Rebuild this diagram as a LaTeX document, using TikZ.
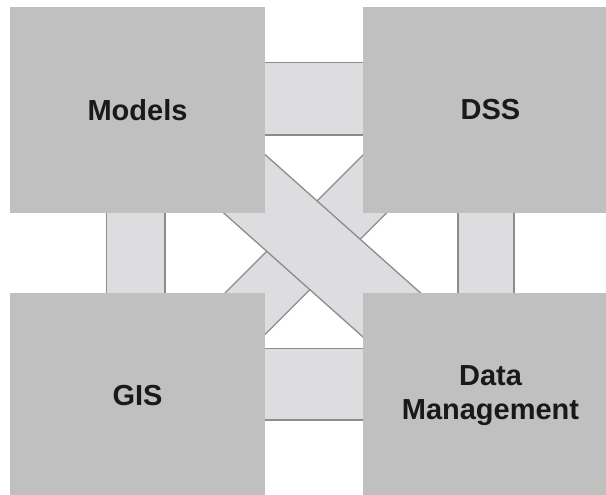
\documentclass[tikz,border=0pt]{standalone}
\usepackage{fontspec}
\setmainfont{Liberation Sans}
\definecolor{boxgray}{RGB}{192,192,193}
\definecolor{bandgray}{RGB}{221,221,223}
\definecolor{edgegray}{RGB}{140,140,142}
\begin{document}
\begin{tikzpicture}[x=1pt,y=-1pt,
  blockbox/.style={rectangle, fill=boxgray, draw=none, minimum width=254.3pt, minimum height=205.4pt, inner sep=0pt, font=\fontsize{29}{33.5}\selectfont\bfseries, text=black!90, align=center},
  band/.style={fill=bandgray, draw=edgegray, line width=1.3pt, line join=miter}]
\clip (0,0) rectangle (606,495);
\fill[white] (0,0) rectangle (606,495);
% diagonal band DSS -> GIS (underneath)
\draw[band] (368,150) -- (449.5,150) -- (249.5,350) -- (168,350) -- cycle;
% diagonal band Models -> Data Management (on top)
\draw[band] (200,96.7) -- (430,301.4) -- (430,396.6) -- (200,191.9) -- cycle;
% straight bands
\draw[band] (250,62.7) rectangle (380,135);
\draw[band] (250,348.3) rectangle (380,420);
\draw[band] (106.3,200) rectangle (165,305);
\draw[band] (458,200) rectangle (514,305);
% blocks
\node[blockbox] (models) at (137.5,110) {Models};
\node[blockbox] (dss) at (490.5,110) {DSS};
\node[blockbox] (gis) at (137.5,395.4) {GIS};
\node[blockbox] (dm) at (490.5,395.4) {Data\\Management};
\end{tikzpicture}
\end{document}
